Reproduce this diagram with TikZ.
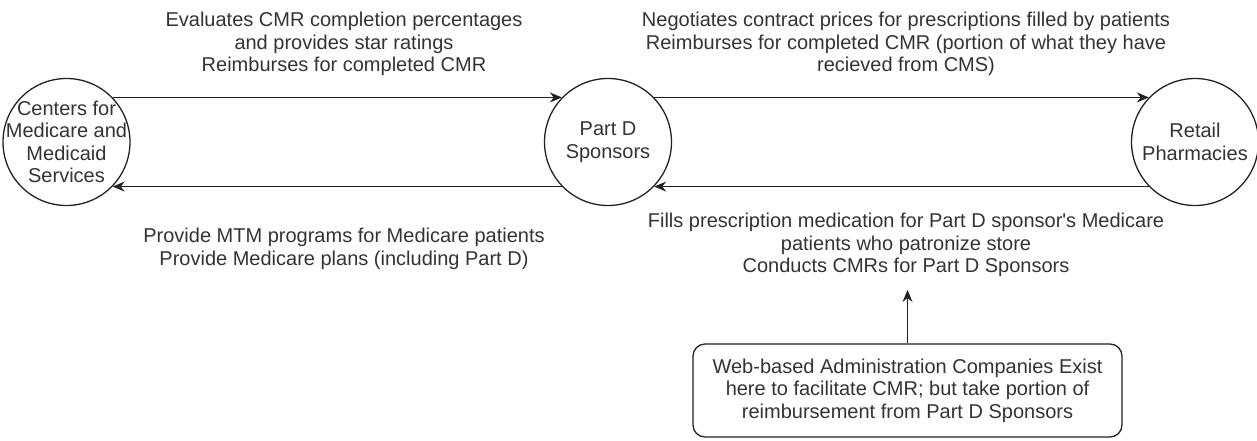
\documentclass[tikz,border=0pt]{standalone}
\usepackage{fontspec}
\setmainfont{Liberation Sans}
\usetikzlibrary{arrows.meta}
\definecolor{ink}{HTML}{222222}
\definecolor{txt}{HTML}{333333}

\begin{document}
\begin{tikzpicture}[x=1pt,y=-1pt,
		party/.style={circle,draw=ink,line width=1.3pt,minimum size=127pt,inner sep=-15pt,align=center,text=txt,font=\fontsize{20}{22.5}\selectfont},
		note/.style={align=center,text=txt,font=\fontsize{20}{22.5}\selectfont},
		flow/.style={-{Stealth[length=12pt,width=10pt]},line width=1.3pt,ink}]
	\useasboundingbox (0,0) rectangle (1257,441);

	\node[party] (cms) at (66.5,142) {Centers for\\Medicare and\\Medicaid\\Services};
	\node[party] (psp) at (608,142) {Part D\\Sponsors};
	\node[party] (ret) at (1195,142) {Retail\\Pharmacies};

	\node[note] (cmstop) at (344,44) {Evaluates CMR completion percentages\\and provides star ratings\\Reimburses for completed CMR};
	\node[note] (cmsbot) at (344,249) {Provide MTM programs for Medicare patients\\Provide Medicare plans (including Part D)};
	\node[note] (rettop) at (906,44) {Negotiates contract prices for prescriptions filled by patients\\Reimburses for completed CMR (portion of what they have\\recieved from CMS)};
	\node[note] (retbot) at (906,245) {Fills prescription medication for Part D sponsor\textquotesingle s Medicare\\patients who patronize store\\Conducts CMRs for Part D Sponsors};

	\node[note,draw=ink,line width=1.3pt,rounded corners=12pt,minimum width=429pt,minimum height=93pt] (web) at (907.5,390.5) {Web-based Administration Companies Exist\\here to facilitate CMR; but take portion of\\reimbursement from Part D Sponsors};
	\coordinate (tip) at (907.5,290);

	\draw[flow] (cms.44) -- (psp.136);
	\draw[flow] (psp.-136) -- (cms.-44);
	\draw[flow] (psp.44) -- (ret.136);
	\draw[flow] (ret.-136) -- (psp.-44);
	\draw[flow] (web.north) -- (tip);
\end{tikzpicture}
\end{document}
